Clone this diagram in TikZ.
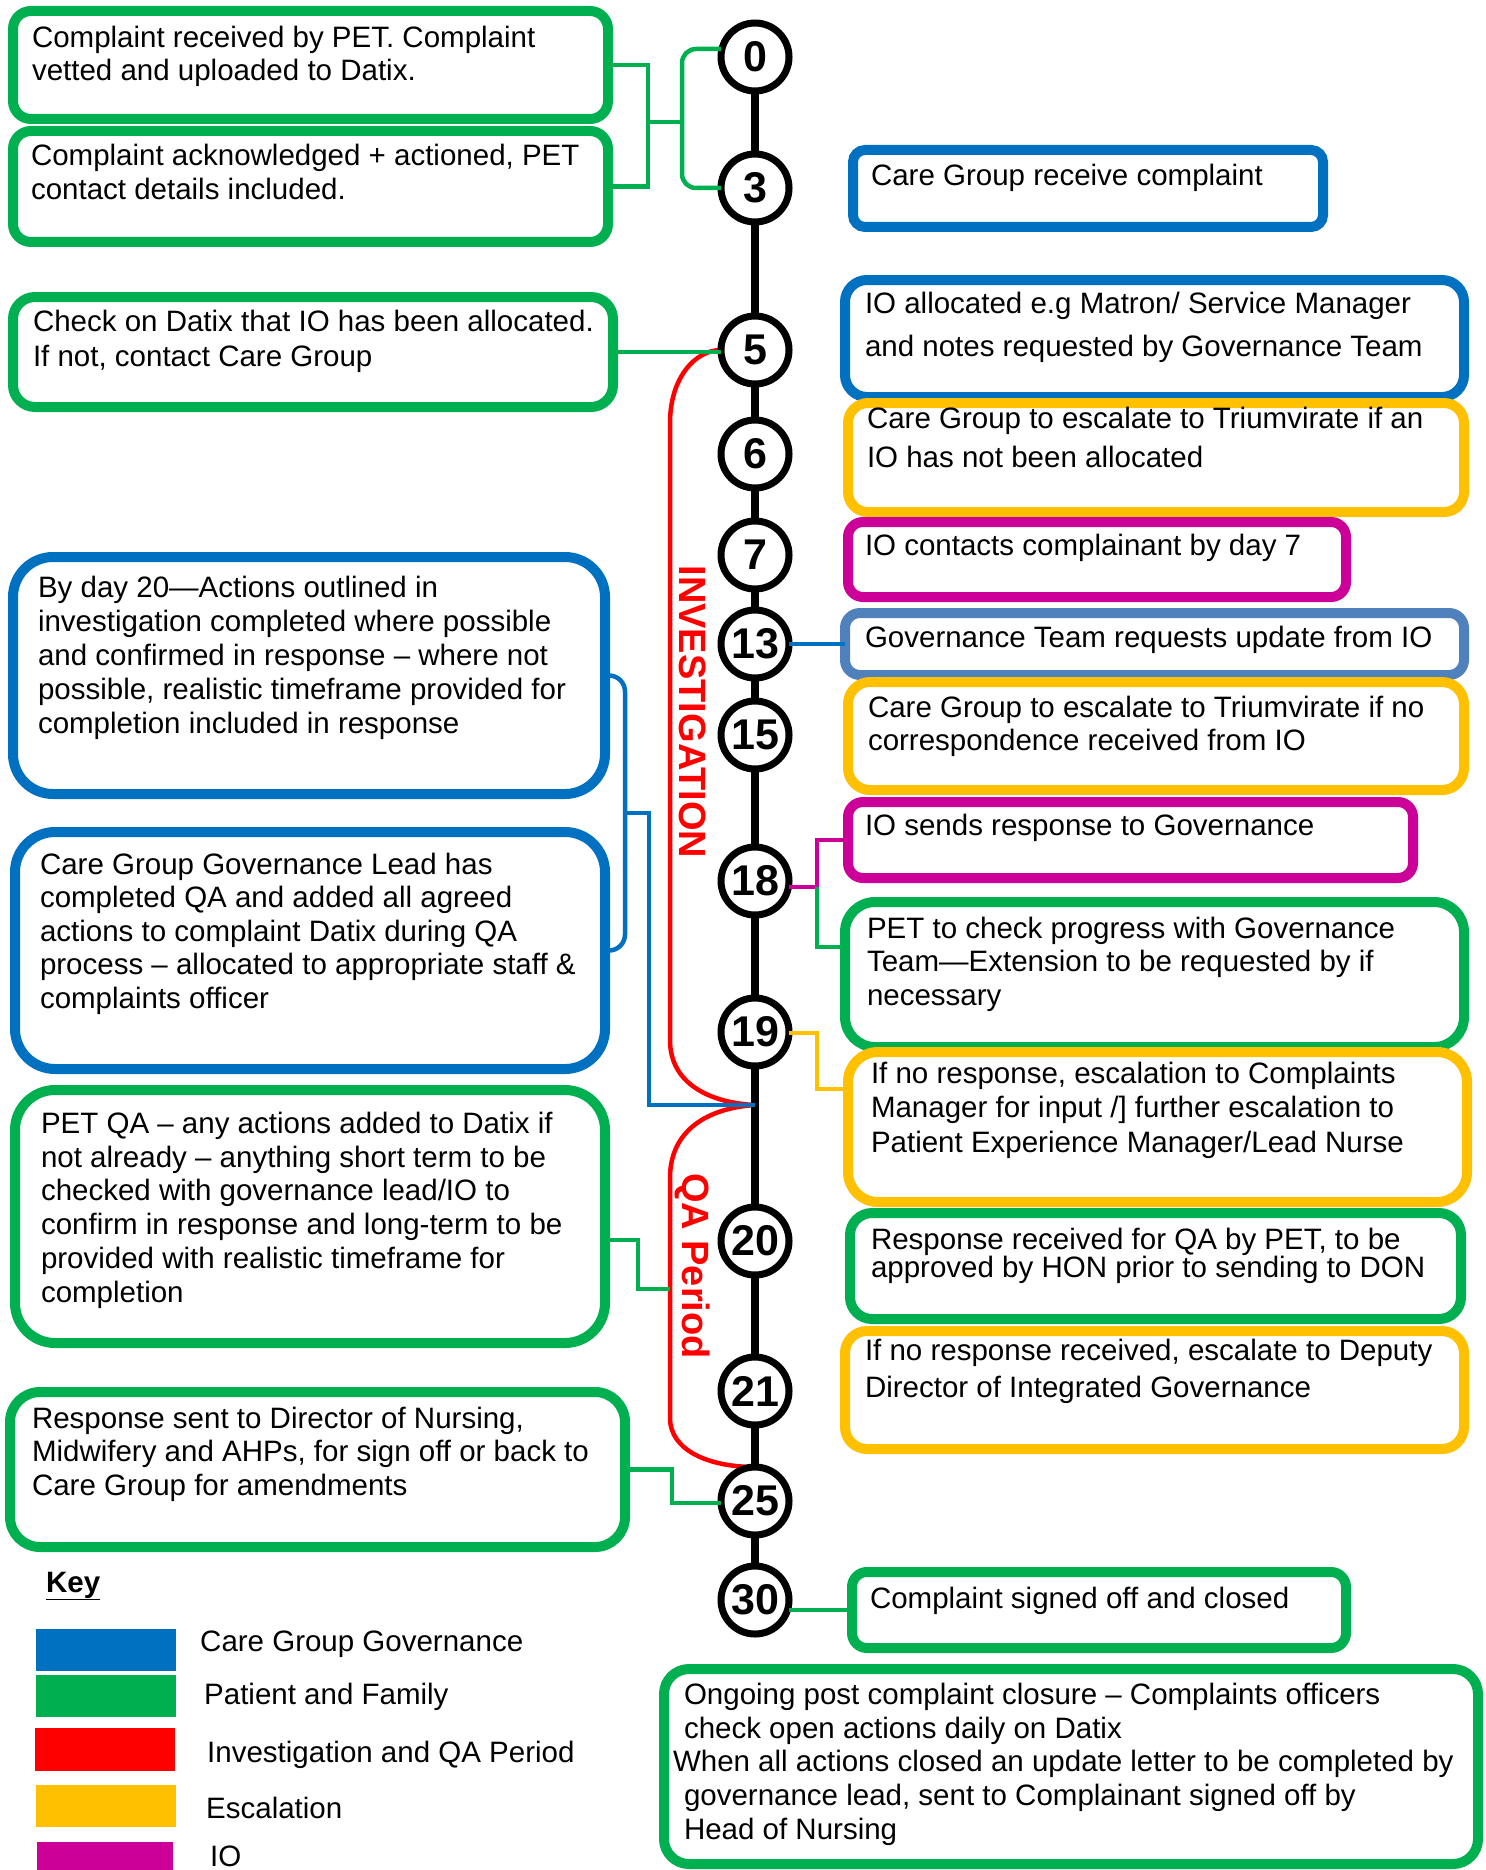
\documentclass[tikz,border=0pt]{standalone}
\usepackage{fontspec}
\setmainfont{Liberation Sans}
\definecolor{pgreen}{HTML}{00B050}
\definecolor{pblue}{HTML}{0070C0}
\definecolor{porange}{HTML}{FFC000}
\definecolor{pmag}{HTML}{CC0099}
\definecolor{psteel}{HTML}{4F81BD}
\definecolor{pred}{HTML}{FF0000}
\begin{document}
\begin{tikzpicture}[x=1pt,y=-1pt,
  box/.style={rectangle, line width=10pt, outer sep=0pt, inner sep=0pt, fill=white, anchor=north west},
  gbox/.style={box, draw=pgreen},
  bbox/.style={box, draw=pblue},
  obox/.style={box, draw=porange},
  mbox/.style={box, draw=pmag},
  sbox/.style={box, draw=psteel},
  txt/.style={anchor=north west, inner sep=0pt, outer sep=0pt, align=left},
  num/.style={circle, draw=black, line width=7pt, fill=white, minimum size=68pt, inner sep=0pt, outer sep=0pt, font=\bfseries\fontsize{43}{43}\selectfont},
  conn/.style={line width=4.5pt},
  gline/.style={conn, draw=pgreen},
  bline/.style={conn, draw=pblue},
  oline/.style={conn, draw=porange},
  mline/.style={conn, draw=pmag},
  rline/.style={line width=4.5pt, draw=pred},
  vlabel/.style={rotate=-90, inner sep=0pt, text=pred, font=\bfseries\fontsize{38}{38}\selectfont},
  keytxt/.style={anchor=base west, inner sep=0pt, font=\fontsize{29.5}{34}\selectfont},
]
\fill[white] (0,0) rectangle (1485,1870);
\useasboundingbox (0,0) rectangle (1485,1870);

% ---------- left boxes ----------
\node[gbox, rounded corners=18pt, minimum width=595pt, minimum height=108pt] (A) at (13,11) {};
\node[gbox, rounded corners=18pt, minimum width=595pt, minimum height=111pt] (B) at (13,131) {};
\node[gbox, rounded corners=22pt, minimum width=600pt, minimum height=110pt] (C) at (13,297) {};
\node[bbox, rounded corners=40pt, minimum width=592pt, minimum height=237pt] (D) at (13,557) {};
\node[bbox, rounded corners=40pt, minimum width=590pt, minimum height=237pt] (E) at (15,832) {};
\node[gbox, rounded corners=40pt, minimum width=590pt, minimum height=253pt] (F) at (15,1090) {};
\node[gbox, rounded corners=30pt, minimum width=615pt, minimum height=155pt] (G) at (10,1392) {};

% ---------- right boxes ----------
\node[bbox, rounded corners=12pt, minimum width=470pt, minimum height=77pt] (R1) at (853,150) {};
\node[bbox, rounded corners=22pt, minimum width=619pt, minimum height=117pt] (R2) at (845,280) {};
\node[obox, rounded corners=20pt, minimum width=616pt, minimum height=109pt] (R3) at (848,403) {};
\node[mbox, rounded corners=15pt, minimum width=498pt, minimum height=75pt] (R4) at (848,522) {};
\node[sbox, rounded corners=15pt, minimum width=619pt, minimum height=62pt] (R5) at (845,613) {};
\node[obox, rounded corners=22pt, minimum width=616pt, minimum height=108pt] (R6) at (848,682) {};
\node[mbox, rounded corners=15pt, minimum width=565pt, minimum height=76pt] (R7) at (848,802) {};
\node[gbox, rounded corners=30pt, minimum width=619pt, minimum height=145pt] (R8) at (845,902) {};
\node[obox, rounded corners=30pt, minimum width=619pt, minimum height=150pt] (R9) at (848,1052) {};
\node[gbox, rounded corners=22pt, minimum width=611pt, minimum height=106pt] (R10) at (850,1213) {};
\node[obox, rounded corners=22pt, minimum width=619pt, minimum height=118pt] (R11) at (845,1331) {};
\node[gbox, rounded corners=15pt, minimum width=494pt, minimum height=76pt] (R12) at (852,1572) {};
\node[gbox, rounded corners=25pt, minimum width=814pt, minimum height=195pt] (R13) at (664,1669) {};

% ---------- texts ----------
\node[txt, font=\fontsize{29.5}{33}\selectfont] (tA) at (32,26.5) {Complaint received by PET. Complaint\\vetted and uploaded to Datix.};
\node[txt, font=\fontsize{29.5}{34}\selectfont] (tB) at (31,144) {Complaint acknowledged + actioned, PET\\contact details included.};
\node[txt, font=\fontsize{29.5}{35}\selectfont] (tC) at (33,310) {Check on Datix that IO has been allocated.\\If not, contact Care Group};
\node[txt, font=\fontsize{29.5}{34}\selectfont] (tD) at (38,576) {By day 20—Actions outlined in\\investigation completed where possible\\and confirmed in response – where not\\possible, realistic timeframe provided for\\completion included in response};
\node[txt, font=\fontsize{29.5}{33.5}\selectfont] (tE) at (40,853) {Care Group Governance Lead has\\completed QA and added all agreed\\actions to complaint Datix during QA\\process – allocated to appropriate staff \&\\complaints officer};
\node[txt, font=\fontsize{29.5}{33.8}\selectfont] (tF) at (41,1112) {PET QA – any actions added to Datix if\\not already – anything short term to be\\checked with governance lead/IO to\\confirm in response and long-term to be\\provided with realistic timeframe for\\completion};
\node[txt, font=\fontsize{29.5}{33.5}\selectfont] (tG) at (32,1407) {Response sent to Director of Nursing,\\Midwifery and AHPs, for sign off or back to\\Care Group for amendments};

\node[txt, font=\fontsize{29.5}{34}\selectfont] (tR1) at (871,164) {Care Group receive complaint};
\node[txt, font=\fontsize{29.5}{43}\selectfont] (tR2) at (865,292) {IO allocated e.g Matron/ Service Manager\\and notes requested by Governance Team};
\node[txt, font=\fontsize{29.5}{39}\selectfont] (tR3) at (867,407) {Care Group to escalate to Triumvirate if an\\IO has not been allocated};
\node[txt, font=\fontsize{29.5}{34}\selectfont] (tR4) at (865,534) {IO contacts complainant by day 7};
\node[txt, font=\fontsize{29.5}{34}\selectfont] (tR5) at (865,626) {Governance Team requests update from IO};
\node[txt, font=\fontsize{29.5}{33}\selectfont] (tR6) at (868,696) {Care Group to escalate to Triumvirate if no\\correspondence received from IO};
\node[txt, font=\fontsize{29.5}{34}\selectfont] (tR7) at (865,814) {IO sends response to Governance};
\node[txt, font=\fontsize{29.5}{33.5}\selectfont] (tR8) at (867,917) {PET to check progress with Governance\\Team—Extension to be requested by if\\necessary};
\node[txt, font=\fontsize{29.5}{34.5}\selectfont] (tR9) at (871,1062) {If no response, escalation to Complaints\\Manager for input /] further escalation to\\Patient Experience Manager/Lead Nurse};
\node[txt, font=\fontsize{29.5}{26}\selectfont] (tR10) at (871,1228) {Response received for QA by PET, to be\\approved by HON prior to sending to DON};
\node[txt, font=\fontsize{29.5}{37}\selectfont] (tR11) at (865,1339) {If no response received, escalate to Deputy\\Director of Integrated Governance};
\node[txt, font=\fontsize{29.5}{34}\selectfont] (tR12) at (870,1587) {Complaint signed off and closed};
\node[txt, font=\fontsize{29.5}{33.75}\selectfont] (tR13) at (673,1683) {\hspace*{11pt}Ongoing post complaint closure – Complaints officers\\\hspace*{11pt}check open actions daily on Datix\\When all actions closed an update letter to be completed by\\\hspace*{11pt}governance lead, sent to Complainant signed off by\\\hspace*{11pt}Head of Nursing};

% ---------- junction coordinates ----------
\coordinate (jAB) at (648,122);
\coordinate (jR) at (682,122);
\coordinate (jDE) at (625,813);
\coordinate (jDE2) at (649,1105);
\coordinate (jQ) at (755,1105);
\coordinate (j18) at (817,887);
\coordinate (j18b) at (817,947);
\coordinate (j19) at (817,1033);
\coordinate (j19b) at (817,1089);
\coordinate (jF1) at (638,1240);
\coordinate (jF2) at (670,1289);
\coordinate (jG) at (672,1503);

% ---------- timeline circles (positions) ----------
\path (755,57) coordinate (p0) (755,188) coordinate (p3) (755,350) coordinate (p5)
      (755,454) coordinate (p6) (755,555) coordinate (p7) (755,644) coordinate (p13)
      (755,735) coordinate (p15) (755,881) coordinate (p18) (755,1032) coordinate (p19)
      (755,1241) coordinate (p20) (755,1391) coordinate (p21) (755,1501) coordinate (p25)
      (755,1600) coordinate (p30);

% ---------- red period brackets ----------
\draw[rline] (p5) ++(-34,0) .. controls (695,350) and (670,378) .. (670,423) -- (670,1040) .. controls (670,1085) and (712,1103) .. (jQ);
\draw[rline] (jQ) .. controls (708,1108) and (670,1130) .. (670,1178) -- (670,1418) .. controls (670,1450) and (708,1467) .. (755,1467);
\node[vlabel] (lInv) at (693,712) {INVESTIGATION};
\node[vlabel] (lQA) at (693,1266) {QA Period};

% ---------- timeline ----------
\draw[line width=7.5pt] (p0) -- (p30);

% ---------- circles ----------
\node[num] (n0) at (p0) {0};
\node[num] (n3) at (p3) {3};
\node[num] (n5) at (p5) {5};
\node[num] (n6) at (p6) {6};
\node[num] (n7) at (p7) {7};
\node[num] (n13) at (p13) {13};
\node[num] (n15) at (p15) {15};
\node[num] (n18) at (p18) {18};
\node[num] (n19) at (p19) {19};
\node[num] (n20) at (p20) {20};
\node[num] (n21) at (p21) {21};
\node[num] (n25) at (p25) {25};
\node[num] (n30) at (p30) {30};

% ---------- connectors ----------
\draw[gline] (A.east) -| (jAB) |- (B.east);
\draw[gline] (jAB) -- (jR);
\draw[gline, rounded corners=14pt] ([yshift=8pt]n0.west) -| (jR) |- (n3.west);
\draw[gline] (C.east) -- (C.east -| n5.west);
\draw[bline, rounded corners=16pt] (D.east) -| (jDE) |- (E.east);
\draw[bline] (jDE) -| (jDE2) -- (jQ);
\draw[bline] (n13.east) -- (n13.east -| R5.west);
\draw[mline] (j18 -| n18.east) -- (j18) |- (R7.west);
\draw[gline] (j18) -- (j18b) -- (j18b -| R8.west);
\draw[oline] (j19 -| n19.east) -- (j19) -- (j19b) -- (j19b -| R9.west);
\draw[gline] (jF1 -| F.east) -- (jF1) |- (jF2);
\draw[gline] (G.east) -| (jG) -- (jG -| n25.west);
\draw[gline] (R12.west -| n30.east) -- (R12.west);

% ---------- key ----------
\node[keytxt, font=\bfseries\fontsize{29.5}{34}\selectfont] (kKey) at (46,1592) {\underline{Key}};
\fill[pblue] (36,1629) rectangle (176,1671);
\fill[pgreen] (36,1675) rectangle (176,1717);
\fill[pred] (35,1728) rectangle (175,1771);
\fill[porange] (36,1785) rectangle (176,1827);
\fill[pmag] (37,1842) rectangle (173,1880);
\node[keytxt] (k1) at (200,1651) {Care Group Governance};
\node[keytxt] (k2) at (204,1704) {Patient and Family};
\node[keytxt] (k3) at (207,1762) {Investigation and QA Period};
\node[keytxt] (k4) at (206,1818) {Escalation};
\node[keytxt] (k5) at (210,1866) {IO};
\end{tikzpicture}
\end{document}
